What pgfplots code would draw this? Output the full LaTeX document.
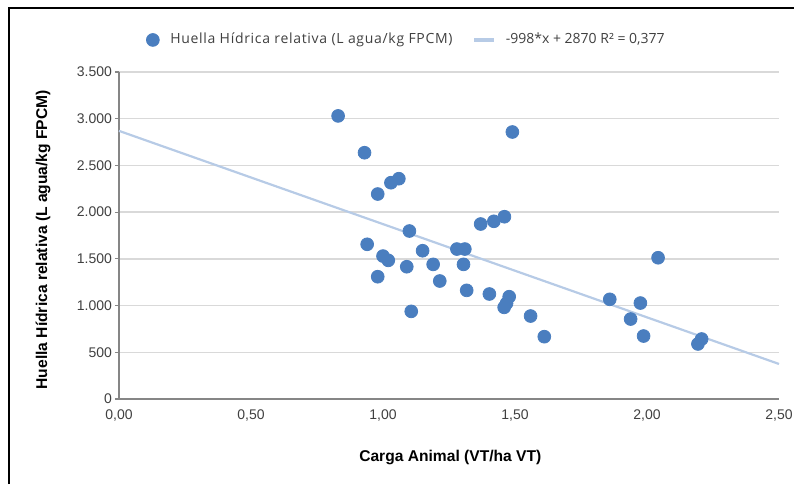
\documentclass[border=0pt]{standalone}
\usepackage{fontspec}
\setmainfont{Liberation Sans}
\newfontfamily\legfont{Open Sans}
\usepackage{pgfplots}
\pgfplotsset{compat=1.18}
\definecolor{dotblue}{HTML}{4A7EBF}
\definecolor{trendblue}{HTML}{B7CBE6}
\definecolor{gridgray}{HTML}{D9D9D9}
\definecolor{axisgray}{HTML}{868686}
\definecolor{txtgray}{HTML}{404040}

\pgfplotstableread{
x y
0.83 3030
0.93 2636
0.98 2194
1.03 2315
1.06 2358
1.49 2858
0.94 1656
1.10 1798
1.37 1873
1.42 1902
1.46 1951
1.00 1530
1.02 1484
0.98 1309
1.09 1416
1.15 1587
1.19 1441
1.215 1263
1.28 1605
1.31 1605
1.305 1441
1.317 1163
1.107 938
1.403 1124
1.459 981
1.468 1024
1.478 1095
1.559 888
1.611 667
2.042 1512
1.859 1067
1.975 1027
1.938 856
1.987 674
2.207 642
2.193 589
}\huella

\begin{document}
\begin{tikzpicture}[x=1pt,y=1pt]
\useasboundingbox (0,0) rectangle (397,242);
\draw[line width=1pt] (4.5,0) -- (4.5,238) -- (397,238);
\begin{axis}[at={(59.5pt,42.5pt)}, anchor=south west, scale only axis, width=330pt, height=163.5pt,
  xmin=0, xmax=2.5, ymin=0, ymax=3500, xtick={0,0.5,1,1.5,2,2.5}, ytick={0,500,...,3500},
  axis x line*=bottom, axis y line*=left, axis line style={axisgray, line width=0.6pt},
  ymajorgrids, grid style={gridgray, line width=0.75pt},
  tick align=outside, major tick length=2pt, xtick style={draw=none}, ytick style={axisgray, line width=0.6pt},
  /pgf/number format/assume math mode=true,
  tick label style={font=\fontsize{7}{8}\selectfont, text=txtgray},
  xticklabel style={/pgf/number format/.cd, fixed, fixed zerofill, precision=2, use comma},
  yticklabel style={xshift=2pt, /pgf/number format/.cd, 1000 sep={.}},
  scaled ticks=false,
  xlabel={Carga Animal (VT/ha VT)}, ylabel={Huella Hídrica relativa (L agua/kg FPCM)},
  label style={font=\fontsize{7.8}{9}\selectfont\bfseries, text=black},
  xlabel style={at={(axis description cs:0.502,-0.18)}, anchor=center},
  ylabel style={at={(axis description cs:-0.1152,0.487)}, anchor=center, rotate=0},
  legend columns=2,
  legend style={at={(axis description cs:0.041,1.098)}, anchor=west, draw=none, fill=none,
    font=\legfont\fontsize{7}{8}\selectfont, text=txtgray, inner sep=0pt,
    /tikz/every even column/.append style={column sep=8pt}},
  legend cell align=left,
  clip=false]
\addplot[trendblue, line width=1.1pt, forget plot] coordinates {(0,2870) (2.5,375)};
\addplot[only marks, mark=*, mark size=3.2pt, dotblue, mark options={draw=dotblue, fill=dotblue}] table[x=x, y=y] {\huella};
\addlegendentry{\hspace{3.5pt}{\addfontfeature{LetterSpace=5}Huella Hídrica relativa (L agua/kg FPCM)}}
\addlegendimage{legend image code/.code={\draw[trendblue, line width=1.6pt] (0pt,0pt) -- (10pt,0pt);}}
\addlegendentry{\hspace{3pt}-998*x + 2870 R² = 0,377}
\end{axis}
\end{tikzpicture}
\end{document}
